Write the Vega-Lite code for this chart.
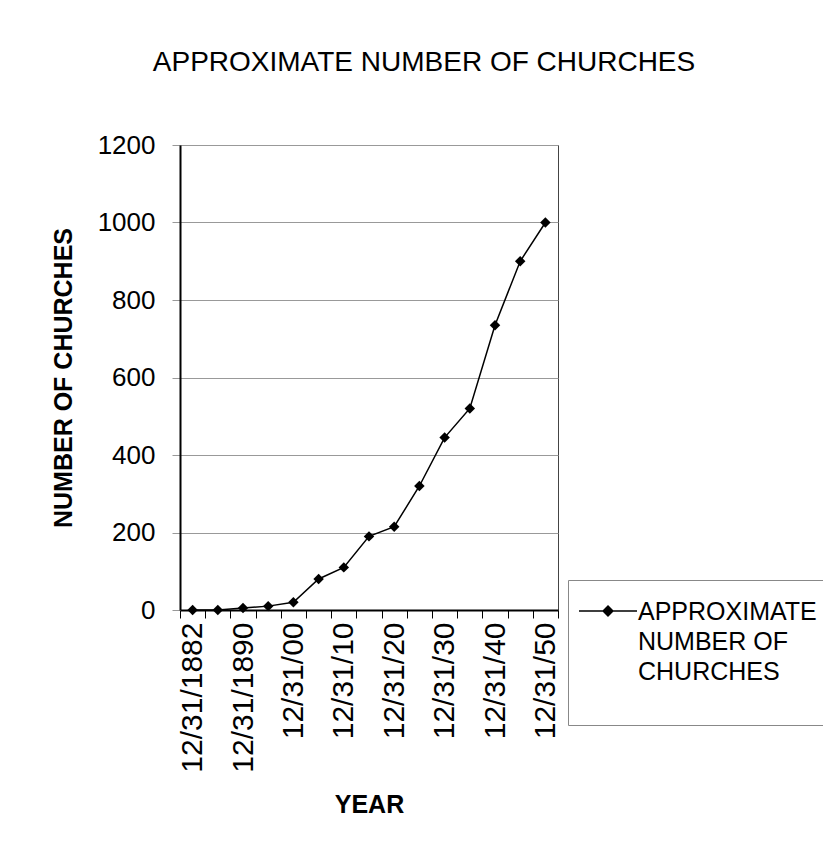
{
  "$schema": "https://vega.github.io/schema/vega-lite/v6.json",
  "width": 378,
  "height": 465,
  "autosize": {"type": "none"},
  "padding": {"left": 180, "top": 145, "right": 265, "bottom": 247},
  "background": "white",
  "title": {
    "text": "APPROXIMATE NUMBER OF CHURCHES",
    "font": "Liberation Sans",
    "fontSize": 28,
    "fontWeight": "normal",
    "color": "black",
    "anchor": "middle",
    "frame": "group",
    "baseline": "alphabetic",
    "dx": 55,
    "offset": 33
  },
  "config": {
    "font": "Liberation Sans",
    "view": {"stroke": "#444", "strokeWidth": 1},
    "style": {"guide-label": {"lineHeight": 30}}
  },
  "data": {
    "values": [
      {"date": "12/31/1882", "churches": 0},
      {"date": "12/31/1886", "churches": 0},
      {"date": "12/31/1890", "churches": 5},
      {"date": "12/31/1895", "churches": 10},
      {"date": "12/31/00", "churches": 20},
      {"date": "12/31/05", "churches": 80},
      {"date": "12/31/10", "churches": 110},
      {"date": "12/31/15", "churches": 190},
      {"date": "12/31/20", "churches": 215},
      {"date": "12/31/25", "churches": 320},
      {"date": "12/31/30", "churches": 445},
      {"date": "12/31/35", "churches": 520},
      {"date": "12/31/40", "churches": 735},
      {"date": "12/31/45", "churches": 900},
      {"date": "12/31/50", "churches": 1000}
    ]
  },
  "encoding": {
    "x": {
      "field": "date",
      "type": "ordinal",
      "sort": null,
      "scale": {"type": "band", "paddingInner": 0, "paddingOuter": 0},
      "axis": {
        "title": "YEAR",
        "titleFontSize": 25,
        "titleFontWeight": "bold",
        "titleColor": "black",
        "titlePadding": 20,
        "labelExpr": "test(/^12\\/31\\/(1882|1890|00|10|20|30|40|50)$/, datum.value) ? datum.value : ''",
        "labelAngle": 270,
        "labelFontSize": 30,
        "labelColor": "black",
        "labelPadding": 4,
        "labelOverlap": false,
        "tickBand": "extent",
        "tickSize": 8,
        "tickColor": "black",
        "domainColor": "black",
        "domainWidth": 2,
        "grid": false
      }
    },
    "y": {
      "field": "churches",
      "type": "quantitative",
      "scale": {"domain": [0, 1200], "nice": false},
      "axis": {
        "title": "NUMBER OF CHURCHES",
        "titleFontSize": 25,
        "titleFontWeight": "bold",
        "titleColor": "black",
        "titlePadding": 21,
        "values": [0, 200, 400, 600, 800, 1000, 1200],
        "format": "d",
        "labelFontSize": 26,
        "labelColor": "black",
        "labelPadding": 17,
        "tickSize": 8,
        "tickColor": "#999",
        "domainColor": "black",
        "domainWidth": 2,
        "grid": true,
        "gridColor": "#999",
        "gridWidth": 1
      }
    },
    "color": {
      "datum": "APPROXIMATE NUMBER OF CHURCHES",
      "scale": {"range": ["black"]},
      "legend": {
        "title": null,
        "orient": "none",
        "legendX": 388,
        "legendY": 435,
        "padding": 10,
        "strokeColor": "#888",
        "fillColor": "white",
        "symbolType": "M-1,-0.31L1,-0.31M0,-0.48L0.17,-0.31L0,-0.14L-0.17,-0.31Z",
        "symbolSize": 3364,
        "symbolFillColor": "black",
        "symbolStrokeColor": "black",
        "symbolStrokeWidth": 1.5,
        "labelExpr": "['APPROXIMATE', 'NUMBER OF', 'CHURCHES', '']",
        "labelFontSize": 25,
        "labelBaseline": "alphabetic",
        "labelColor": "black",
        "labelOffset": 0,
        "labelLimit": 400
      }
    }
  },
  "layer": [
    {"mark": {"type": "line", "strokeWidth": 1.5}},
    {"mark": {"type": "point", "shape": "diamond", "filled": true, "size": 110, "opacity": 1}}
  ]
}
